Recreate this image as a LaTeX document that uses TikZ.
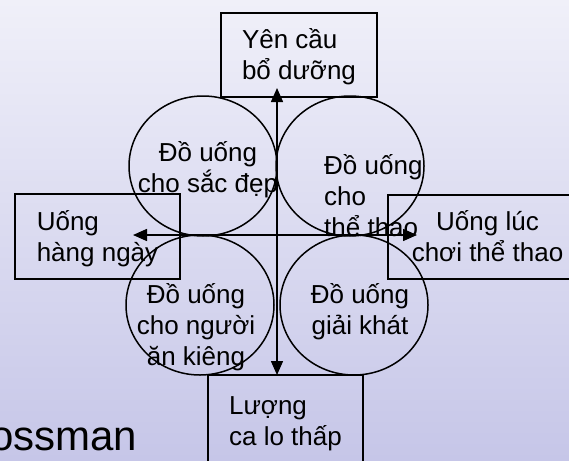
\documentclass[tikz,border=0pt]{standalone}
\usepackage{fontspec}
\setmainfont{Liberation Sans}
\usepackage{xcolor}
\usetikzlibrary{arrows.meta, shapes.geometric}
\definecolor{bgtop}{RGB}{240,240,249}
\definecolor{bgbottom}{RGB}{198,198,232}
\tikzstyle{frame} = [draw, line width=1.5pt, inner sep=0pt, text height=55pt, text depth=6pt, font=\fontsize{26}{31}\selectfont]
\tikzstyle{drink} = [draw, ellipse, line width=1.5pt, minimum width=148pt, minimum height=140pt, inner sep=0pt]
\tikzstyle{txt} = [inner sep=0pt, font=\fontsize{26}{31}\selectfont]
\tikzstyle{axisline} = [line width=1.5pt, <->, >={Triangle[length=14pt, width=12pt]}]

\begin{document}
\begin{tikzpicture}[x=1pt, y=-1pt]

\useasboundingbox (0, 0) rectangle (569, 460);
\fill [top color=bgtop, bottom color=bgbottom] (0, 0) rectangle (569, 460);

% Drink groups
\node [drink] (beauty) at (203, 166) {};
\node [drink] (sport) at (350, 166) {};
\node [drink] (diet) at (200, 305) {};
\node [drink] (thirst) at (354, 305) {};

% Needs on the four sides
\node [frame, minimum width=156pt, minimum height=84pt, align=left] (nourish) at (299, 55) {Yên cầu\\bổ dưỡng};
\node [frame, minimum width=165pt, minimum height=85pt, align=left] (daily) at (97.5, 236.5) {Uống\\hàng ngày};
\node [frame, minimum width=199pt, minimum height=84pt, align=center] (playing) at (487.5, 237) {Uống lúc\\chơi thể thao};
\node [frame, minimum width=155pt, minimum height=91pt, align=left] (lowcal) at (285.5, 420.5) {Lượng\\ca lo thấp};

% Axes
\coordinate (uptip) at (277, 88);
\coordinate (downtip) at (277, 375);
\coordinate (lefttip) at (133, 235);
\coordinate (righttip) at (417, 235);
\draw [axisline] (uptip) -- (downtip);
\draw [axisline] (lefttip) -- (righttip);

\node [txt, align=center] (beautytext) at (208, 169.5) {Đồ uống\\cho sắc đẹp};
\node [txt, align=left, anchor=west] (sporttext) at (324, 196) {Đồ uống\\cho\\thể thao};
\node [txt, align=center] (diettext) at (196, 327.5) {Đồ uống\\cho người\\ăn kiêng};
\node [txt, align=center] (thirsttext) at (360, 311.5) {Đồ uống\\giải khát};

\node [anchor=base west, inner sep=0pt, font=\fontsize{42}{50}\selectfont] (author) at (-10, 450) {ossman};

\end{tikzpicture}
\end{document}
